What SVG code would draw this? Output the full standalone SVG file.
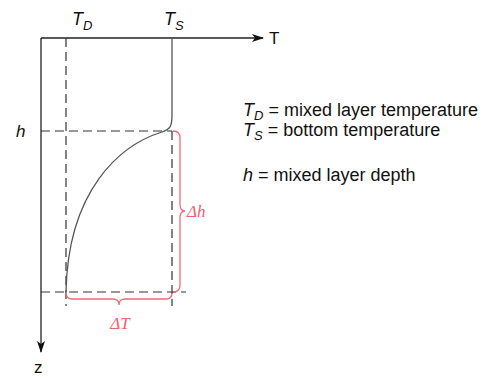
<svg xmlns="http://www.w3.org/2000/svg" width="486" height="378" viewBox="0 0 486 378">
<style>
.ax{stroke:#222;stroke-width:1.3;fill:none}
.dash{stroke:#333;stroke-width:1.2;fill:none;stroke-dasharray:9 5}
.prof{stroke:#555;stroke-width:1.3;fill:none}
.br{stroke:#f06a78;stroke-width:1.3;fill:none}
.lbl{font-family:"Liberation Sans",Arial,sans-serif;fill:#111}
.it{font-style:italic}
.red{font-family:"Liberation Serif","Times New Roman",serif;fill:#f0606e;font-size:17px;font-style:italic}
</style>
<defs>
<marker id="arr" viewBox="0 0 12 8" refX="11" refY="4" markerWidth="12" markerHeight="8" markerUnits="userSpaceOnUse" orient="auto">
<path d="M0,0 L12,4 L0,8 L3,4 Z" fill="#111"/>
</marker>
</defs>
<g id="connectors">
<path class="ax" d="M41,38 L263,38" marker-end="url(#arr)"/>
<path class="ax" d="M41,38 L41,352" marker-end="url(#arr)"/>
<path class="dash" d="M66,38 L66,306"/>
<path class="dash" d="M172,131 L172,306"/>
<path class="dash" d="M41,131 L172,131"/>
<path class="dash" d="M41,292 L186,292"/>
<path class="prof" d="M172,38 L172,115 C172,127 170,129 162,132 C120,145 68,190 66,292"/>
<path class="br" d="M173,131 Q180,131 180,138 L180,204 Q180,211 185,211 Q180,211 180,218 L180,285 Q180,292 173,292"/>
<path class="br" d="M66,293 Q66,299 72,299 L113,299 Q119,299 119,305 Q119,299 125,299 L166,299 Q172,299 172,293"/>
</g>
<g id="axis-labels">
<text class="lbl" x="269" y="44" font-size="17">T</text>
<text class="lbl" x="34" y="373" font-size="17">z</text>
<text class="lbl it" x="72" y="25" font-size="18">T<tspan font-size="13" dy="5">D</tspan></text>
<text class="lbl it" x="164" y="25" font-size="18">T<tspan font-size="13" dy="5">S</tspan></text>
<text class="lbl it" x="16" y="137" font-size="17">h</text>
</g>
<g id="delta-labels">
<text class="red" x="187" y="217">Δh</text>
<text class="red" x="120" y="329" text-anchor="middle">ΔT</text>
</g>
<g id="legend">
<text class="lbl" x="243" y="116" font-size="18"><tspan font-style="italic">T</tspan><tspan font-style="italic" font-size="13" dy="4">D</tspan><tspan dy="-4"> = mixed layer temperature</tspan></text>
<text class="lbl" x="243" y="136" font-size="18"><tspan font-style="italic">T</tspan><tspan font-style="italic" font-size="13" dy="4">S</tspan><tspan dy="-4"> = bottom temperature</tspan></text>
<text class="lbl" x="243" y="181" font-size="18"><tspan font-style="italic">h</tspan> = mixed layer depth</text>
</g>
</svg>
